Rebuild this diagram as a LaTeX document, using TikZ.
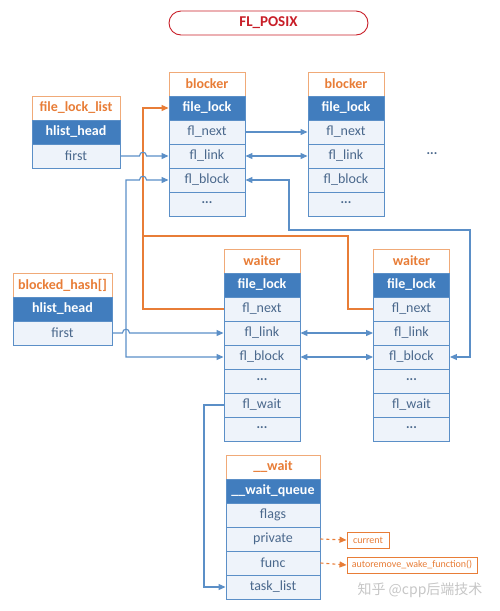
\documentclass[tikz,border=0pt]{standalone}
\usepackage{fontspec}
\setmainfont{Carlito}
\newfontfamily\cjk{Noto Sans CJK SC}
\usetikzlibrary{arrows.meta}
\definecolor{bl}{RGB}{91,143,199}
\definecolor{hdblue}{RGB}{65,125,190}
\definecolor{org}{RGB}{232,125,55}
\definecolor{rowtxt}{RGB}{74,104,140}
\definecolor{rowfill}{RGB}{238,243,250}
\definecolor{hdrbd}{RGB}{240,170,120}
\definecolor{ttl}{RGB}{200,30,40}
\tikzset{
 cell/.style={draw=bl, line width=0.9pt, fill=rowfill, text=rowtxt, inner sep=0pt, minimum height=24pt, font=\fontsize{14}{16}\selectfont},
 hdrcell/.style={cell, draw=hdrbd, fill=white, text=org, font=\fontsize{14}{16}\selectfont\bfseries},
 keycell/.style={cell, fill=hdblue, text=white, font=\fontsize{14}{16}\selectfont\bfseries},
 link/.style={draw=bl, line width=1.1pt},
 arr/.style={-{Triangle[length=7pt,width=6pt]}},
 darr/.style={{Triangle[length=7pt,width=6pt]}-{Triangle[length=7pt,width=6pt]}},
 olink/.style={draw=org, line width=1.1pt},
 smallbox/.style={draw=org, line width=0.9pt, fill=white, text=org, inner sep=0pt, minimum height=16pt, font=\fontsize{10}{12}\selectfont},
}
\newcommand\structbox[6]{%
  \node[hdrcell, minimum width=#4pt] (#1-0) at (#2,{#3+12}) {#5};
  \foreach \txt [count=\i] in {#6} {
    \ifnum\i=1
      \node[keycell, minimum width=#4pt] (#1-\i) at (#2,{#3+12+24*\i}) {\txt};
    \else
      \node[cell, minimum width=#4pt] (#1-\i) at (#2,{#3+12+24*\i}) {\txt};
    \fi
  }%
}
\newcommand\mydots{\textperiodcentered\textperiodcentered\textperiodcentered}
\begin{document}
\begin{tikzpicture}[x=1pt,y=-1pt]
\useasboundingbox (0,0) rectangle (500,611);
% title
\node[draw=ttl, line width=0.9pt, rounded corners=12pt, minimum width=199pt, minimum height=24pt, text=ttl, font=\fontsize{15}{17}\selectfont\bfseries] (title) at (268.5,23) {FL\_POSIX};
% structures
\structbox{b1}{207}{72}{76}{blocker}{file\_lock, fl\_next, fl\_link, fl\_block, \mydots}
\structbox{b2}{346}{72}{76}{blocker}{file\_lock, fl\_next, fl\_link, fl\_block, \mydots}
\structbox{fll}{76}{96}{88}{file\_lock\_list}{hlist\_head, first}
\structbox{bh}{62.5}{273}{99}{blocked\_hash[]}{hlist\_head, first}
\structbox{w1}{262}{249}{76}{waiter}{file\_lock, fl\_next, fl\_link, fl\_block, \mydots, fl\_wait, \mydots}
\structbox{w2}{411.5}{249}{76}{waiter}{file\_lock, fl\_next, fl\_link, fl\_block, \mydots, fl\_wait, \mydots}
\structbox{wt}{273}{455}{94}{\_\_wait}{\_\_wait\_queue, flags, private, func, task\_list}
\node[text=rowtxt, font=\fontsize{14}{16}\selectfont] (more) at (432,155) {\mydots};
\node[smallbox, minimum width=42pt] (cur) at (368,540) {current};
\node[smallbox, minimum width=130pt] (arf) at (412,565) {autoremove\_wake\_function()};
\node[text=gray!45, font=\cjk\fontsize{14}{16}\selectfont] (wm) at (420,590) {知乎 @cpp后端技术};
% orange links
\draw[olink, arr] (w1-2.west) -- (143,309) |- (b1-1.west);
\draw[olink] (w2-2.west) -- (348,309) -- (348,236) -- (143,236);
% blue links
\draw[link, arr] (fll-2.east) -- (139.5,156) .. controls (139.5,151) and (146.5,151) .. (146.5,156) -- (b1-3.west);
\draw[link, arr] (b1-2.east) -- (b2-2.west);
\draw[link, darr] (b1-3.east) -- (b2-3.west);
\draw[link, darr] (w1-4.west) -- (126,357) -- (126,180) -- (139.5,180) .. controls (139.5,175) and (146.5,175) .. (146.5,180) -- (b1-4.west);
\draw[link, darr] (b1-4.east) -- (289,180) -- (289,230) -- (470,230) -- (470,357) -- (w2-4.east);
\draw[link, arr] (bh-2.east) -- (122.5,333) .. controls (122.5,328) and (129.5,328) .. (129.5,333) -- (w1-3.west);
\draw[link, darr] (w1-3.east) -- (w2-3.west);
\draw[link, darr] (w1-4.east) -- (w2-4.west);
\draw[link, arr] (w1-6.west) -- (204,405) |- (wt-5.west);
% dashed orange
\draw[olink, dashed, arr] (wt-3.east) -- (cur.west);
\draw[olink, dashed, arr] (wt-4.east) -- (arf.west);
\end{tikzpicture}
\end{document}
